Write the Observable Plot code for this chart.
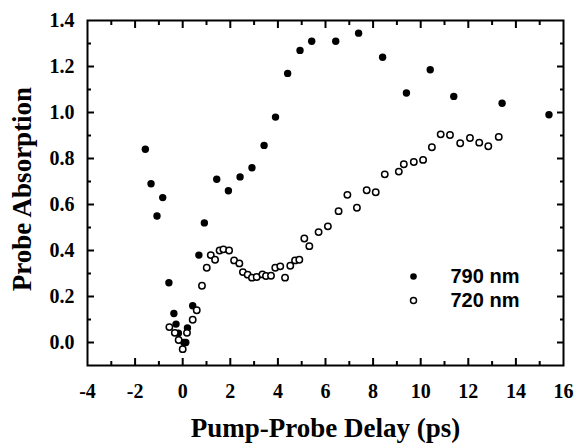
<!DOCTYPE html>
<html><head><meta charset="utf-8">
<script src="https://cdn.jsdelivr.net/npm/d3@7"></script>
<script src="https://cdn.jsdelivr.net/npm/@observablehq/plot@0.6"></script>
<style>body{margin:0;background:#fff}</style>
</head><body><div id="chart"></div>
<script>
// 790 nm (filled circles)
const x790 = [-1.57,-1.33,-1.08,-0.84,-0.58,-0.37,-0.28,-0.18,0.05,0.13,0.20,0.42,0.68,0.91,1.43,1.92,2.41,2.91,3.42,3.90,4.41,4.93,5.42,6.43,7.39,8.40,9.40,10.40,11.39,13.42,15.39];
const y790 = [0.84,0.69,0.55,0.63,0.26,0.126,0.08,0.04,0.0,0.0,0.063,0.16,0.38,0.52,0.71,0.66,0.72,0.76,0.857,0.98,1.17,1.27,1.31,1.31,1.345,1.24,1.085,1.186,1.07,1.04,0.99];
// 720 nm (open circles)
const x720 = [-0.56,-0.33,-0.17,0.0,0.18,0.42,0.59,0.81,1.01,1.18,1.36,1.55,1.71,1.95,2.16,2.38,2.53,2.73,2.91,3.11,3.35,3.50,3.71,3.89,4.10,4.30,4.52,4.72,4.90,5.11,5.32,5.71,6.10,6.55,6.92,7.32,7.73,8.11,8.49,9.08,9.29,9.71,10.10,10.47,10.84,11.23,11.66,12.07,12.46,12.84,13.28];
const y720 = [0.067,0.042,0.011,-0.029,0.042,0.099,0.14,0.247,0.325,0.38,0.36,0.40,0.405,0.40,0.357,0.344,0.306,0.295,0.282,0.285,0.296,0.289,0.29,0.325,0.331,0.282,0.334,0.357,0.36,0.452,0.419,0.48,0.505,0.571,0.642,0.586,0.662,0.653,0.731,0.743,0.775,0.785,0.794,0.849,0.905,0.902,0.866,0.889,0.869,0.853,0.894];

const seriesNames = ["790 nm", "720 nm"];
const xTickLabels = [-4,-2,0,2,4,6,8,10,12,14,16];
const yTickLabels = [0,0.2,0.4,0.6,0.8,1.0,1.2,1.4];
const xMajorTicks = [-2,0,2,4,6,8,10,12,14];
const xMinorTicks = [-3,-1,1,3,5,7,9,11,13,15];
const yMajorTicks = [0,0.2,0.4,0.6,0.8,1.0,1.2];
const yMinorTicks = [0.1,0.3,0.5,0.7,0.9,1.1,1.3];
const xTitle = "Pump-Probe Delay (ps)";
const yTitle = "Probe Absorption";

const d790 = x790.map((x, i) => ({x, y: y790[i]}));
const d720 = x720.map((x, i) => ({x, y: y720[i]}));

const serif = "'Liberation Serif','Times New Roman',serif";
const sans = "'Liberation Sans',Arial,sans-serif";
const blank = () => "";
const tk = (size) => ({tickSize: size, stroke: "#000", strokeWidth: 2, tickFormat: blank, label: null});

const chart = Plot.plot({
  width: 576, height: 443,
  marginLeft: 87, marginRight: 13, marginTop: 20, marginBottom: 78,
  x: {domain: [-4, 16]},
  y: {domain: [-0.1, 1.4]},
  style: {background: "#fff", color: "#000", fontFamily: serif, fontSize: "20px", fontWeight: "bold"},
  marks: [
    Plot.dot(d790, {x: "x", y: "y", r: 3.7, fill: "#000"}),
    Plot.dot(d720, {x: "x", y: "y", r: 3.2, fill: "#fff", stroke: "#000", strokeWidth: 1.5}),
    Plot.frame({strokeWidth: 2, stroke: "#000"}),
    // inward ticks on all four sides
    Plot.axisX(xMajorTicks, {anchor: "bottom", ...tk(-7)}),
    Plot.axisX(xMinorTicks, {anchor: "bottom", ...tk(-4)}),
    Plot.axisX(xMajorTicks, {anchor: "top", ...tk(-7)}),
    Plot.axisX(xMinorTicks, {anchor: "top", ...tk(-4)}),
    Plot.axisY(yMajorTicks, {anchor: "left", ...tk(-7)}),
    Plot.axisY(yMinorTicks, {anchor: "left", ...tk(-4)}),
    Plot.axisY(yMajorTicks, {anchor: "right", ...tk(-7)}),
    Plot.axisY(yMinorTicks, {anchor: "right", ...tk(-4)}),
    // tick labels
    Plot.axisX(xTickLabels, {anchor: "bottom", tickSize: 0, tickPadding: 18, label: null,
      tickFormat: d => String(d), fontSize: 20, fontWeight: "bold", fontFamily: serif}),
    Plot.axisY(yTickLabels, {anchor: "left", tickSize: 0, tickPadding: 13, label: null,
      tickFormat: d3.format(".1f"), fontSize: 20, fontWeight: "bold", fontFamily: serif}),
    // axis titles
    Plot.text([xTitle], {text: d => d, frameAnchor: "bottom", dy: 63, lineAnchor: "middle", textAnchor: "middle",
      fontSize: 27, fontWeight: "bold", fontFamily: serif}),
    Plot.text([yTitle], {text: d => d, frameAnchor: "left", dx: -65, dy: -4, rotate: -90, textAnchor: "middle",
      lineAnchor: "middle", fontSize: 27, fontWeight: "bold", fontFamily: serif}),
    // legend
    Plot.dot([seriesNames[0]], {frameAnchor: "top-left", dx: 326, dy: 256, r: 3.3, fill: "#000"}),
    Plot.dot([seriesNames[1]], {frameAnchor: "top-left", dx: 326, dy: 280, r: 3.0, fill: "#fff", stroke: "#000", strokeWidth: 1.5}),
    Plot.text([seriesNames[0]], {text: d => d, frameAnchor: "top-left", dx: 363, dy: 256, textAnchor: "start",
      lineAnchor: "middle", fontSize: 20, fontWeight: "bold", fontFamily: sans}),
    Plot.text([seriesNames[1]], {text: d => d, frameAnchor: "top-left", dx: 363, dy: 280, textAnchor: "start",
      lineAnchor: "middle", fontSize: 20, fontWeight: "bold", fontFamily: sans})
  ]
});
document.getElementById("chart").appendChild(chart);
</script>
</body></html>
